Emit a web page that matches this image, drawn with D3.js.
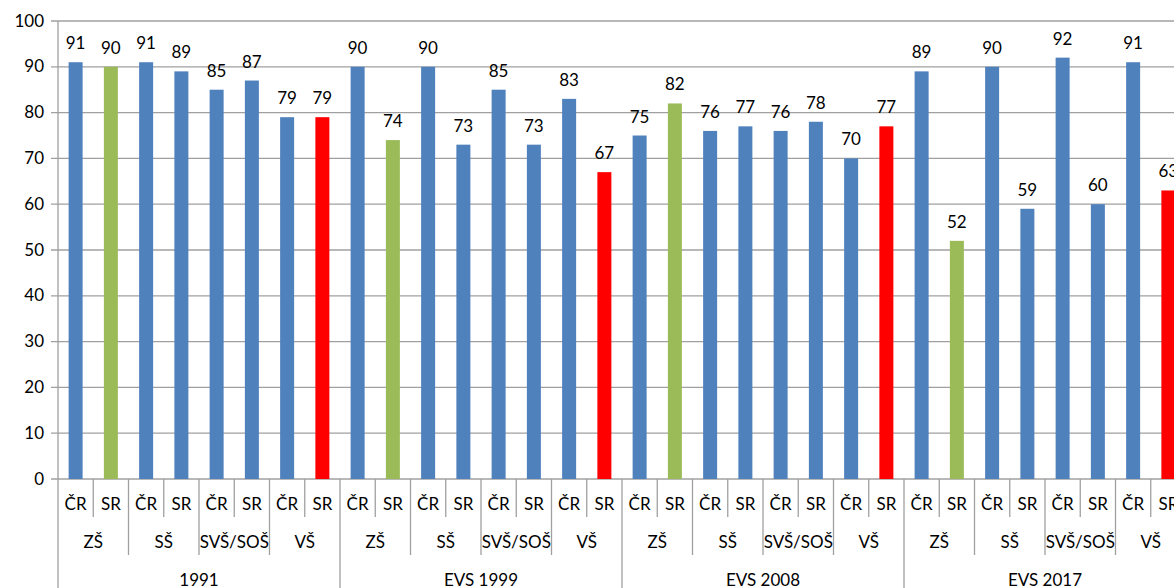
<!DOCTYPE html>
<html>
<head>
<meta charset="utf-8">
<script src="https://cdn.jsdelivr.net/npm/d3@7"></script>
<style>
  body { margin: 0; background: #fff; overflow: hidden; }
  text { font-family: Lato, "Open Sans", sans-serif; font-size: 17px; fill: #000; }
</style>
</head>
<body>
<div id="chart"></div>
<script>
// data
const surveys = ["1991", "EVS 1999", "EVS 2008", "EVS 2017"];
const schools = ["ZŠ", "SŠ", "SVŠ/SOŠ", "VŠ"];
const countries = ["ČR", "SR"];
const values1991 = [91, 90, 91, 89, 85, 87, 79, 79];
const values1999 = [90, 74, 90, 73, 85, 73, 83, 67];
const values2008 = [75, 82, 76, 77, 76, 78, 70, 77];
const values2017 = [89, 52, 90, 59, 92, 60, 91, 63];
const yTicks = [0, 10, 20, 30, 40, 50, 60, 70, 80, 90, 100];

// flat rows: survey > school > country
const allValues = [values1991, values1999, values2008, values2017];
const rows = [];
surveys.forEach((s, i) => {
  schools.forEach((sc, j) => {
    countries.forEach((c, k) => {
      rows.push({ survey: s, school: sc, country: c, value: allValues[i][j * 2 + k] });
    });
  });
});

function barColor(d) {
  if (d.country === "SR" && d.school === "ZŠ") return "#9BBB59";
  if (d.country === "SR" && d.school === "VŠ") return "#FF0000";
  return "#4F81BD";
}

// dimensions
const w = 1174, h = 588;
const padLeft = 58, padTop = 21, baseY = 479;
const step = 35.25;
const axisColor = "#a0a0a0";

const svg = d3.select("#chart").append("svg")
  .attr("width", w)
  .attr("height", h);

const x = d3.scaleBand()
  .domain(d3.range(rows.length))
  .range([padLeft, padLeft + step * rows.length])
  .padding(0);

const y = d3.scaleLinear()
  .domain([0, 100])
  .range([baseY, padTop]);

// gridlines
svg.append("g").selectAll("line")
  .data(yTicks)
  .join("line")
  .attr("x1", padLeft - 7)
  .attr("x2", w)
  .attr("y1", d => y(d))
  .attr("y2", d => y(d))
  .attr("stroke", axisColor)
  .attr("stroke-width", 1.3);

// y labels
svg.append("g").selectAll("text")
  .data(yTicks)
  .join("text")
  .attr("x", padLeft - 14)
  .attr("y", d => y(d))
  .attr("dy", "0.33em")
  .attr("text-anchor", "end")
  .text(d => d);

// bars
const barW = 14;
svg.append("g").selectAll("rect")
  .data(rows)
  .join("rect")
  .attr("x", (d, i) => x(i) + x.bandwidth() / 2 - barW / 2)
  .attr("y", d => y(d.value))
  .attr("width", barW)
  .attr("height", d => y(0) - y(d.value))
  .attr("fill", barColor);

// value labels
svg.append("g").selectAll("text")
  .data(rows)
  .join("text")
  .attr("x", (d, i) => x(i) + x.bandwidth() / 2)
  .attr("y", d => y(d.value) - 13)
  .attr("text-anchor", "middle")
  .text(d => d.value);

// y axis line
svg.append("line")
  .attr("x1", padLeft).attr("x2", padLeft)
  .attr("y1", padTop).attr("y2", h)
  .attr("stroke", axisColor)
  .attr("stroke-width", 1.3);

// multi-level category axis
const cat = svg.append("g");
const bounds = d3.range(1, rows.length + 1);
cat.selectAll("line")
  .data(bounds)
  .join("line")
  .attr("x1", i => padLeft + step * i)
  .attr("x2", i => padLeft + step * i)
  .attr("y1", baseY)
  .attr("y2", i => i % 8 === 0 ? h : i % 2 === 0 ? 555 : 517)
  .attr("stroke", axisColor)
  .attr("stroke-width", 1.3);

cat.selectAll("text.country")
  .data(rows)
  .join("text")
  .attr("class", "country")
  .attr("x", (d, i) => x(i) + x.bandwidth() / 2)
  .attr("y", 510)
  .attr("text-anchor", "middle")
  .text(d => d.country);

const schoolRows = rows.filter((d, i) => i % 2 === 0);
cat.selectAll("text.school")
  .data(schoolRows)
  .join("text")
  .attr("class", "school")
  .attr("x", (d, i) => x(i * 2 + 1))
  .attr("y", 548)
  .attr("text-anchor", "middle")
  .text(d => d.school);

cat.selectAll("text.survey")
  .data(surveys)
  .join("text")
  .attr("class", "survey")
  .attr("x", (d, i) => x(i * 8 + 4))
  .attr("y", 586)
  .attr("text-anchor", "middle")
  .text(d => d);
</script>
</body>
</html>
